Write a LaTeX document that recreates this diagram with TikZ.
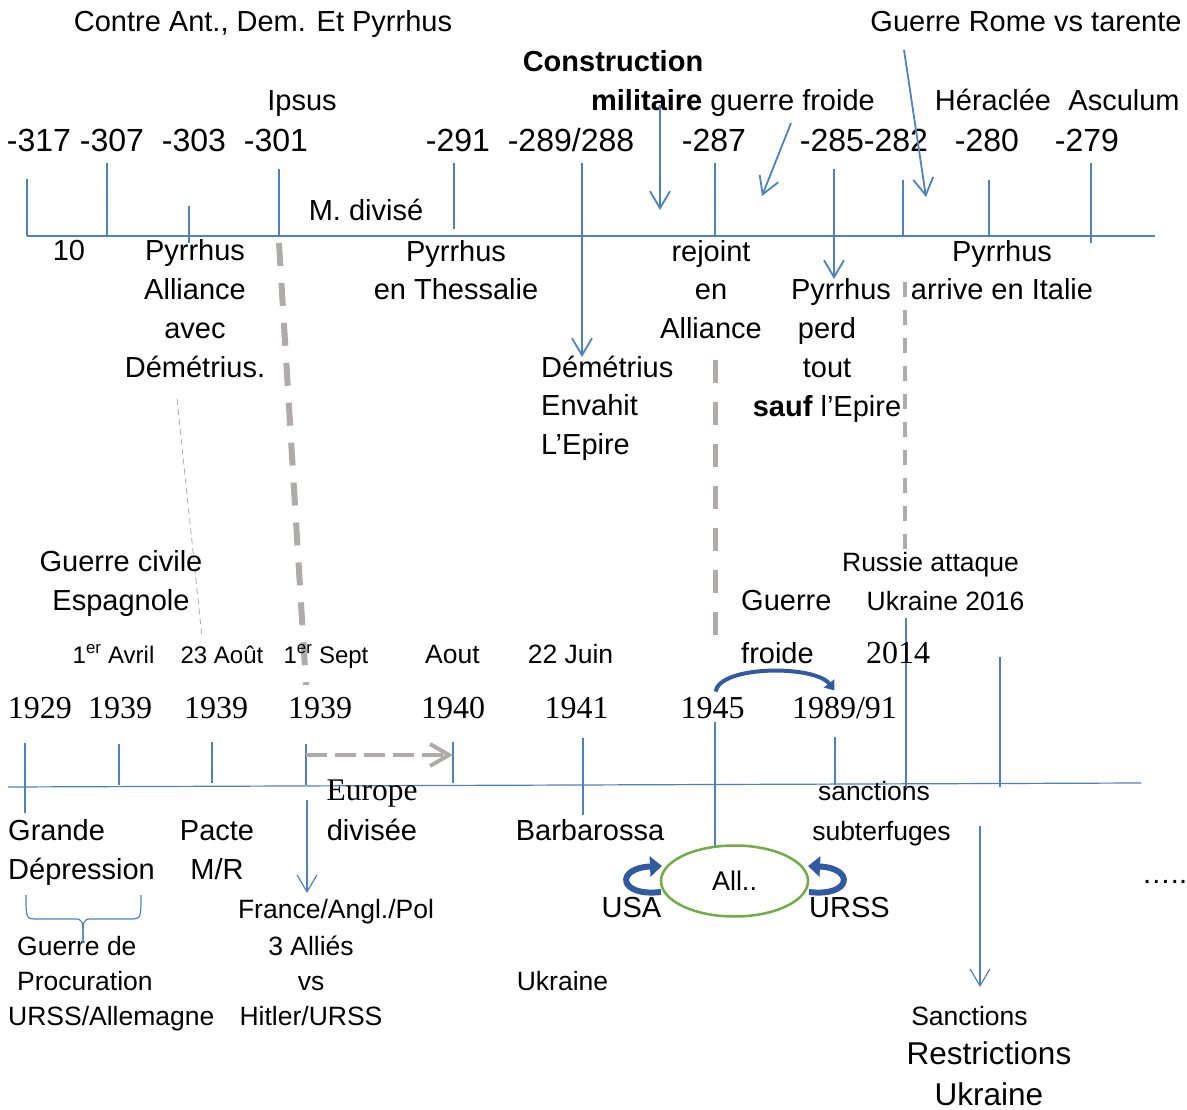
\documentclass[tikz,border=0pt]{standalone}
\usepackage{fontspec}
\setmainfont{Liberation Sans}
\newfontfamily\tnr{Liberation Serif}
\usetikzlibrary{arrows.meta,shapes.geometric}
\definecolor{bleu}{RGB}{79,129,189}
\definecolor{bleufonce}{RGB}{50,90,160}
\definecolor{gris}{RGB}{175,171,171}
\definecolor{vert}{RGB}{112,173,71}
\tikzset{
  every node/.style={inner sep=0pt,anchor=base,align=center},
  txt/.style={font=\fontsize{29}{38.7}\selectfont},
  pet/.style={font=\fontsize{26.5}{35}\selectfont},
  mini/.style={font=\fontsize{24}{30}\selectfont},
  an/.style={font=\fontsize{32}{38}\selectfont},
  rom/.style={font=\tnr\fontsize{32}{38}\selectfont},
  axe/.style={bleu,line width=1.8pt},
  fin/.style={bleu,line width=1.2pt},
  fl/.style={bleu,line width=1.8pt,-{Straight Barb[length=17pt,width=20pt]}},
  tiret/.style={gris,line width=6pt,dash pattern=on 23pt off 17pt},
  circ/.style={bleufonce,line width=6pt,-{Triangle[length=12pt,width=20pt]}},
}
\begin{document}
\begin{tikzpicture}[x=1pt,y=-1pt]
\useasboundingbox (0,0) rectangle (1187,1110);
\begin{scope}
\draw[axe] (27,236) -- (1155,236);
\foreach \x/\a/\b in {27/179/236,107/163/236,189/206/243,279/169/236,454/163/229,582/163/236,715/163/236,834/169/236,903/180/236,989/180/236,1091/163/243}
{
    \draw[axe] (\x,\a) -- (\x,\b);
}
\foreach \x/\t [count=\i] in {39/-317,112/-307,194/-303,276/-301,458/-291,571/{-289/288},714/-287,864/-285-282,987/-280,1087/-279}
{
    \node[an] (t\i) at (\x,151.5) {\t};
}
\node[txt] (contre) at (263,32) {Contre Ant., Dem. Et Pyrrhus};
\node[txt] (rome) at (1026,32) {Guerre Rome vs tarente};
\node[txt] (constr) at (613,72) {\bfseries Construction};
\node[txt] (milit) at (733,111) {\textbf{militaire} guerre froide};
\node[txt] (ipsus) at (302,111) {Ipsus};
\node[txt] (heraclee) at (993,111) {Héraclée};
\node[txt] (asculum) at (1124,111) {Asculum};
\node[txt] (mdiv) at (366,221) {M. divisé};
\node[txt] (dix) at (69,261) {10};
\node[txt] (alliance) at (195,377) {Pyrrhus\\Alliance\\avec\\Démétrius.};
\node[txt] (thessalie) at (456,300) {Pyrrhus\\en Thessalie};
\node[txt,align=left,anchor=base west] (envahit) at (541,454.5) {Démétrius\\Envahit\\L’Epire};
\node[txt] (rejoint) at (711,338.5) {rejoint\\en\\Alliance};
\node[txt] (perd) at (827,416) {\hspace*{28pt}Pyrrhus\\perd\\tout\hspace*{23pt}\\\textbf{sauf} l’Epire};
\node[txt] (italie) at (1002,300) {Pyrrhus\\arrive en Italie};
\draw[fl] (660,105) -- (660,210);
\draw[fl] (791,123) -- (762,196);
\draw[fl] (904,50) -- (926,197);
\draw[fl] (582,225) -- (582,357);
\draw[fl] (834,236) -- (834,279);
\end{scope}
\draw[tiret] (279,243) -- (306,685);
\draw[tiret,line width=5pt,dash pattern=on 23pt off 19pt] (715,360) -- (715,635);
\draw[gris,line width=4pt,dash pattern=on 15pt off 13pt] (905,282) -- (905,562);
\draw[gris,line width=0.8pt,dash pattern=on 6pt off 4pt] (177,399) -- (202,637);
\begin{scope}
\draw[fin] (8,787) -- (1141,783);
\foreach \x/\a/\b in {25/743/813,119/744/785,212/742/783,306/744/785,453/742/783,583/738/815,715/722/847,835/737/785,906/618/787,1000/657/787}
{
    \draw[fin] (\x,\a) -- (\x,\b);
}
\foreach \x/\t [count=\i] in {40/1929,120/1939,216/1939,320/1939,453/1940,576.5/1941,712.5/1945,844.5/{1989/91}}
{
    \node[rom] (b\i) at (\x,718) {\t};
}
\node[rom] (b9) at (898,663) {2014};
\node[mini] (d1) at (113.5,663) {1\textsuperscript{er} Avril};
\node[mini] (d2) at (222,663) {23 Août};
\node[mini] (d3) at (326,663) {1\textsuperscript{er} Sept};
\node[pet] (d4) at (452.5,663) {Aout};
\node[pet] (d5) at (570.5,663) {22 Juin};
\node[txt] (civile) at (121,610) {Guerre civile\\Espagnole};
\node[txt,anchor=base west] (guerre) at (741,610) {Guerre};
\node[txt,anchor=base west] (froide) at (741,663) {froide};
\node[pet] (russie) at (930.5,571) {Russie attaque};
\node[pet] (ukr16) at (945.5,610) {Ukraine 2016};
\node[font=\tnr\fontsize{31.5}{38}\selectfont] (europe) at (372,800) {Europe};
\node[txt] (divisee) at (372,840) {divisée};
\node[txt,align=left,anchor=base west] (depression) at (8,879) {Grande\\Dépression};
\node[txt] (pacte) at (217,879) {Pacte\\M/R};
\node[txt] (barba) at (590,840) {Barbarossa};
\node[pet] (sanct) at (874,800) {sanctions};
\node[pet] (subt) at (881.5,840) {subterfuges};
\node[draw=vert,line width=2.5pt,ellipse,minimum width=147pt,minimum height=71pt,anchor=center,font=\fontsize{27}{30}\selectfont] (all) at (734.5,881) {All..};
\node[txt] (usa) at (631.5,917) {USA};
\node[txt] (urss) at (849.5,917) {URSS};
\node[txt] (points) at (1164.5,883) {…..};
\node[pet,align=left,anchor=base west] (procur) at (8,1025) {\hspace*{9pt}Guerre de\\\hspace*{9pt}Procuration\\URSS/Allemagne};
\node[pet] (france) at (336,918) {France/Angl./Pol};
\node[pet] (allies) at (311,1025) {3 Alliés\\vs\\Hitler/URSS};
\node[pet] (ukr) at (562.5,990) {Ukraine};
\node[pet] (sanctions) at (969.5,1025) {Sanctions};
\node[font=\fontsize{31.5}{41}\selectfont] (restr) at (989,1105) {Restrictions\\Ukraine};
\draw[fin] (26,895) .. controls (26,919) .. (38,919) -- (74,919) .. controls (83,919) .. (83,943);
\draw[fin] (141,895) .. controls (141,919) .. (129,919) -- (92,919) .. controls (83,919) .. (83,943);
\draw[fl,line width=1.2pt] (307,800) -- (307,893);
\draw[fl,line width=1.2pt] (980,826) -- (980,987);
\draw[gris,line width=4pt,dash pattern=on 21pt off 8pt,-{Straight Barb[length=19pt,width=22pt]}] (306,755) -- (453,755);
\draw[circ] (661,892) .. controls (618,897) and (615,868) .. (662,866);
\draw[circ] (809,892) .. controls (852,897) and (855,868) .. (808,866);
\draw[bleufonce,line width=4pt,-{Triangle[length=9pt,width=13pt]}] ([shift={(3,-5)}]b7.north) .. controls (720,665) and (815,665) .. ([shift={(-10,-6)}]b8.north);
\end{scope}
\end{tikzpicture}
\end{document}
